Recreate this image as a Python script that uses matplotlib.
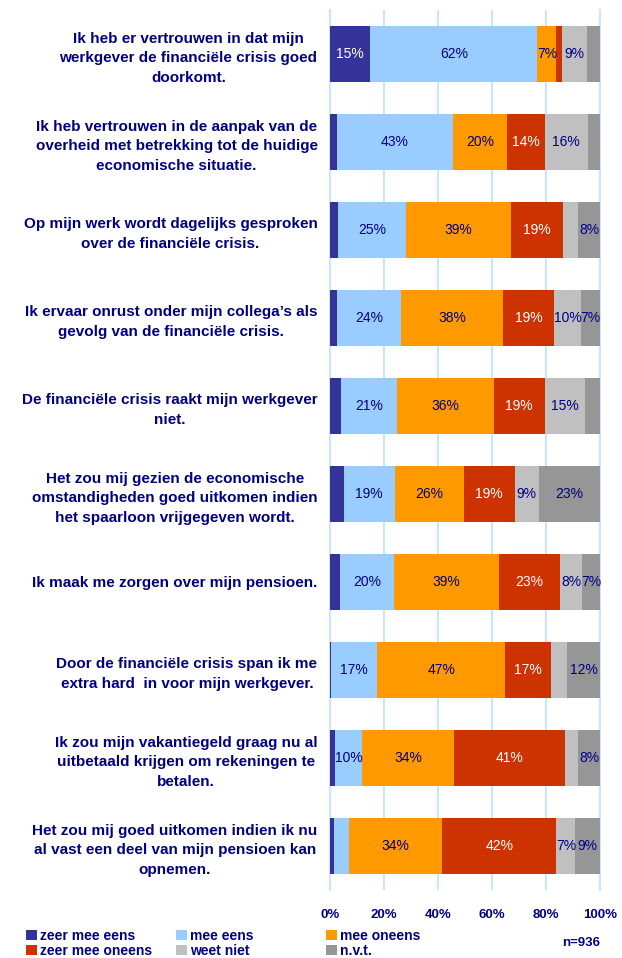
import matplotlib
matplotlib.use("Agg")
import matplotlib.pyplot as plt
import numpy as np
from matplotlib.patches import Patch

plt.rcParams['font.family'] = ['Liberation Sans', 'DejaVu Sans']

categories = [
    "Ik heb er vertrouwen in dat mijn\nwerkgever de financiële crisis goed\ndoorkomt.",
    "Ik heb vertrouwen in de aanpak van de\noverheid met betrekking tot de huidige\neconomische situatie.",
    "Op mijn werk wordt dagelijks gesproken\nover de financiële crisis.",
    "Ik ervaar onrust onder mijn collega’s als\ngevolg van de financiële crisis.",
    "De financiële crisis raakt mijn werkgever\nniet.",
    "Het zou mij gezien de economische\nomstandigheden goed uitkomen indien\nhet spaarloon vrijgegeven wordt.",
    "Ik maak me zorgen over mijn pensioen.",
    "Door de financiële crisis span ik me\nextra hard  in voor mijn werkgever.",
    "Ik zou mijn vakantiegeld graag nu al\nuitbetaald krijgen om rekeningen te\nbetalen.",
    "Het zou mij goed uitkomen indien ik nu\nal vast een deel van mijn pensioen kan\nopnemen.",
]

series_names = ["zeer mee eens", "mee eens", "mee oneens", "zeer mee oneens", "weet niet", "n.v.t."]
zeer_mee_eens   = [15, 2.5, 3, 2.6, 4.1, 5.2, 3.7, 0.4, 1.9, 1.5]
mee_eens        = [62, 43, 25, 24, 21, 19, 20, 17, 10, 5.6]
mee_oneens      = [7, 20, 39, 38, 36, 26, 39, 47, 34, 34]
zeer_mee_oneens = [2.2, 14, 19, 19, 19, 19, 23, 17, 41, 42]
weet_niet       = [9, 16, 5.7, 10, 15, 9, 8, 5.9, 4.8, 7]
nvt             = [5, 4.5, 8, 7, 5.6, 23, 6.7, 12, 8, 9]

colors = ['#333399', '#99CCFF', '#FF9900', '#CC3300', '#C0C0C0', '#969696']
text_colors = ['white', '#000080', '#000080', 'white', '#000080', '#000080']
navy = '#000080'

data = np.array([zeer_mee_eens, mee_eens, mee_oneens, zeer_mee_oneens, weet_niet, nvt], dtype=float)
data = data / data.sum(axis=0) * 100

W, H = 622, 958
fig = plt.figure(figsize=(W/100, H/100), dpi=100)
ax = fig.add_axes([330/W, 1-890/H, 270/W, 880/H])

y = np.arange(len(categories))
left = np.zeros(len(categories))
for i in range(len(series_names)):
    ax.barh(y, data[i], left=left, height=0.636, color=colors[i], label=series_names[i], zorder=3)
    for j in range(len(categories)):
        v = data[i, j]
        if round(v) >= 7:
            ax.text(left[j] + v/2, y[j], f"{round(v):.0f}%", ha='center', va='center',
                    fontsize=10, color=text_colors[i], zorder=4)
    left += data[i]

ax.set_xlim(0, 100)
ax.set_ylim(9.5, -0.5)
ax.set_xticks([0, 20, 40, 60, 80, 100])
ax.set_xticklabels(["0%", "20%", "40%", "60%", "80%", "100%"], fontsize=9.5, fontweight='bold', color=navy)
ax.tick_params(axis='x', length=0, pad=14)
ax.set_yticks(y)
ax.set_yticklabels(categories, fontsize=11, fontweight='bold', color=navy,
                   multialignment='center', linespacing=1.5)
ax.tick_params(axis='y', length=0, pad=9)
ax.grid(axis='x', color='#CCE4FF', linewidth=1.5, zorder=0)
for s in ['top', 'bottom']:
    ax.spines[s].set_visible(False)
for s in ['left', 'right']:
    ax.spines[s].set_color('#CCE4FF')
    ax.spines[s].set_linewidth(1.5)

# legend: three columns of two entries
col_x = [26, 176, 326]
for c in range(3):
    idx = [c, c + 3]
    handles = [Patch(facecolor=colors[k], edgecolor='none') for k in idx]
    leg = fig.legend(handles, [series_names[k] for k in idx],
                     loc='upper left', bbox_to_anchor=(col_x[c]/W, 1-929/H),
                     frameon=False, handlelength=0.8, handleheight=0.8, handletextpad=0.2,
                     labelspacing=0.05, borderpad=0, borderaxespad=0,
                     prop={'family': 'Liberation Sans', 'weight': 'bold', 'size': 10})
    for t in leg.get_texts():
        t.set_color(navy)

fig.text(600/W, 1-943/H, "n=936", ha='right', va='center', fontsize=9.5,
         fontweight='bold', color=navy)

fig.savefig("out.png", dpi=100)
